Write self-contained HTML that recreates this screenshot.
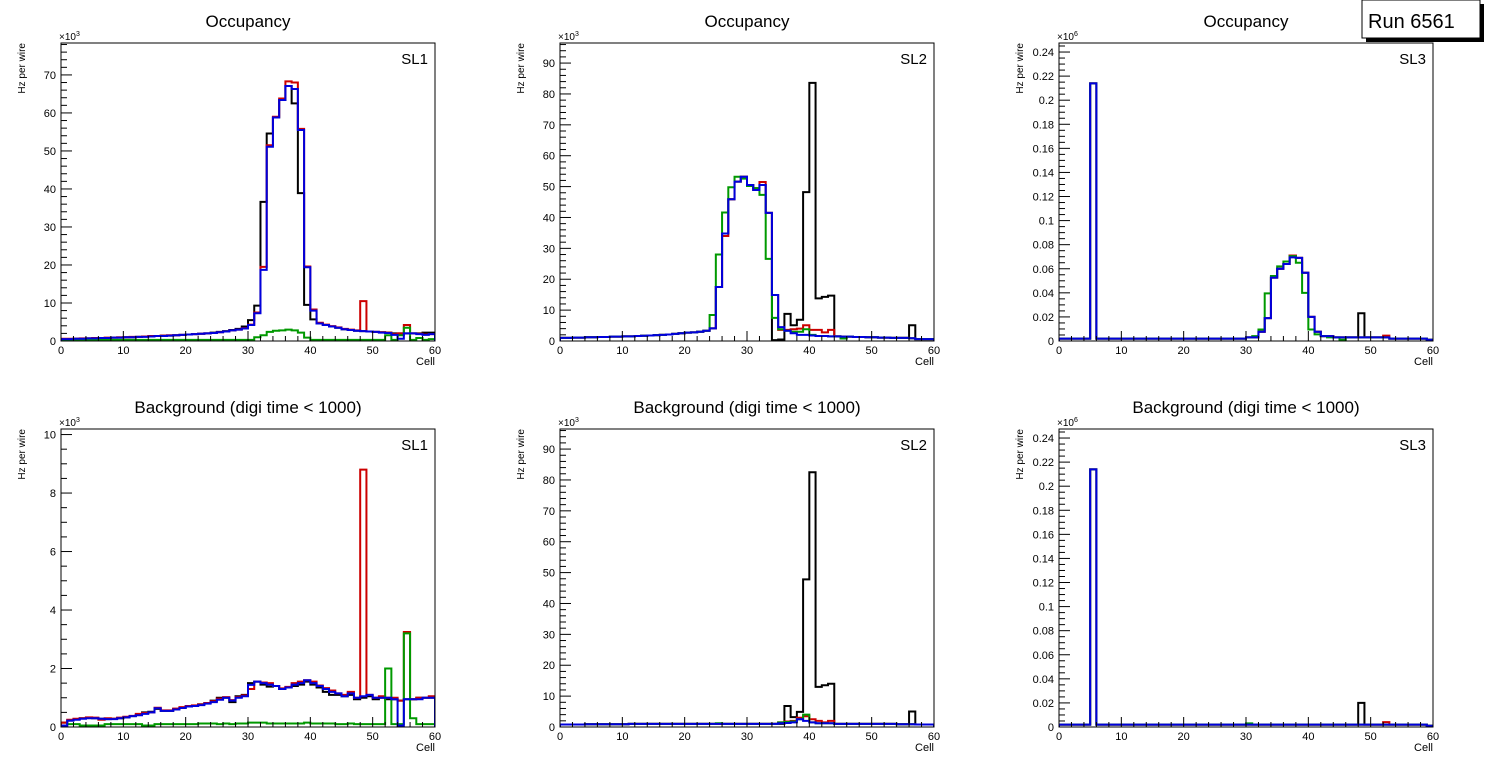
<!DOCTYPE html>
<html><head><meta charset="utf-8"><style>
html,body{margin:0;padding:0;background:#fff;}
svg{display:block;font-family:"Liberation Sans",Arial,sans-serif;}
</style></head>
<body>
<svg id="chart" width="1496" height="772" viewBox="0 0 1496 772" xmlns="http://www.w3.org/2000/svg">
<g>
<rect x="1366" y="4" width="118" height="38" fill="#000"/>
<rect x="1362" y="0" width="118" height="38" fill="#fff" stroke="#000" stroke-width="1"/>
<text x="1368" y="28" font-size="20">Run 6561</text>
</g>
</svg>
<script>
// ---- data (bins 0..59, cells) ----
const cells = Array.from({length:60},(_,i)=>i);
// Panel 1: SL1 occupancy (x10^3)
const p1Black=[0.5,0.5,0.6,0.6,0.7,0.7,0.8,0.8,0.9,0.9,1.0,1.0,1.1,1.2,1.2,1.3,1.4,1.4,1.5,1.6,1.7,1.8,1.9,2.0,2.2,2.4,2.6,2.9,3.2,3.8,5.5,9.3,36.6,54.6,58.8,63.4,67.1,62.5,38.9,9.5,5.7,4.6,4.2,3.8,3.5,3.1,2.9,2.7,2.6,2.5,2.4,2.3,2.2,2.0,2.0,2.0,2.0,2.0,2.2,2.2];
const p1Red=[0.6,0.6,0.6,0.7,0.7,0.8,0.8,0.9,0.9,1.0,1.0,1.1,1.1,1.2,1.3,1.3,1.4,1.5,1.5,1.6,1.7,1.8,1.9,2.0,2.1,2.3,2.5,2.8,3.0,3.4,4.3,7.5,19.5,51.5,59.0,63.8,68.3,68.0,55.8,19.6,8.3,4.8,4.3,3.9,3.6,3.2,3.0,2.8,10.5,2.5,2.4,2.3,2.2,1.8,2.0,4.2,2.0,1.9,1.7,1.8];
const p1Green=[0.3,0.3,0.3,0.3,0.3,0.3,0.3,0.3,0.3,0.3,0.3,0.3,0.3,0.3,0.3,0.3,0.3,0.3,0.3,0.3,0.3,0.3,0.3,0.3,0.3,0.3,0.3,0.3,0.3,0.3,0.3,1.0,1.5,2.4,2.7,2.8,3.0,2.8,2.2,0.9,0.3,0.3,0.3,0.3,0.3,0.3,0.3,0.3,0.3,0.3,0.3,0.3,1.5,0.3,1.5,3.5,0.3,0.8,0.3,0.5];
const p1Blue=[0.5,0.5,0.6,0.6,0.7,0.7,0.8,0.8,0.9,0.9,1.0,1.0,1.1,1.1,1.2,1.3,1.3,1.4,1.5,1.6,1.7,1.8,1.9,2.0,2.1,2.3,2.5,2.8,3.0,3.3,4.2,7.3,18.7,51.1,58.8,63.4,67.1,66.3,55.5,19.4,8.0,4.6,4.2,3.8,3.5,3.1,2.9,2.7,2.6,2.5,2.4,2.2,2.1,1.6,0.6,2.0,2.0,1.8,1.6,1.8];
// Panel 2: SL2 occupancy (x10^3)
const p2Black=[1.0,1.0,1.1,1.1,1.2,1.2,1.3,1.3,1.4,1.4,1.5,1.5,1.6,1.7,1.8,1.9,2.0,2.1,2.3,2.5,2.7,2.8,3.0,3.3,4.1,17.5,34.8,45.9,51.6,53.2,50.5,48.9,50.5,41.5,0.3,0.5,8.8,5.1,6.9,48.2,83.6,13.8,14.3,14.7,1.5,1.4,1.4,1.3,1.3,1.2,1.2,1.1,1.1,1.0,1.0,1.0,5.1,0.6,0.6,0.6];
const p2Red=[1.0,1.0,1.1,1.1,1.2,1.2,1.3,1.3,1.4,1.4,1.5,1.5,1.6,1.7,1.8,1.9,2.0,2.1,2.3,2.5,2.7,2.8,3.0,3.3,4.1,17.5,34.0,45.9,51.6,53.2,50.5,49.5,51.5,41.5,14.9,3.6,3.6,3.8,4.0,5.1,3.6,3.6,2.8,3.6,1.5,1.4,1.4,1.3,1.3,1.2,1.2,1.1,1.1,1.0,1.0,1.0,0.9,0.6,0.6,0.6];
const p2Green=[1.0,1.0,1.1,1.1,1.2,1.2,1.3,1.3,1.4,1.4,1.5,1.5,1.6,1.7,1.8,1.9,2.0,2.1,2.3,2.5,2.7,2.8,3.0,3.3,8.4,28.0,41.6,49.8,53.2,52.6,50.2,49.5,47.3,26.6,7.5,3.8,3.3,3.0,3.0,3.8,2.0,1.6,1.6,1.5,1.5,0.8,1.4,1.3,1.3,1.2,1.2,1.1,1.1,1.0,1.0,1.0,0.9,0.6,0.6,0.6];
const p2Blue=[1.0,1.0,1.1,1.1,1.2,1.2,1.3,1.3,1.4,1.4,1.5,1.5,1.6,1.7,1.8,1.9,2.0,2.1,2.3,2.5,2.7,2.8,3.0,3.3,4.1,17.5,34.8,45.9,51.6,53.2,50.5,48.9,50.5,41.5,14.9,4.5,3.3,2.5,2.0,2.0,1.8,1.6,1.6,1.5,1.5,1.4,1.4,1.3,1.3,1.2,1.2,1.1,1.1,1.0,1.0,1.0,0.9,0.6,0.6,0.6];
// Panel 3: SL3 occupancy (x10^6)
const p3Black=[0.002,0.002,0.002,0.002,0.002,0.214,0.002,0.002,0.002,0.002,0.002,0.002,0.002,0.002,0.002,0.002,0.002,0.002,0.002,0.002,0.002,0.002,0.002,0.002,0.002,0.002,0.002,0.002,0.002,0.002,0.003,0.003,0.0077,0.019,0.0526,0.060,0.064,0.071,0.069,0.0567,0.020,0.0077,0.004,0.004,0.003,0.003,0.003,0.003,0.023,0.003,0.003,0.003,0.003,0.002,0.002,0.002,0.002,0.002,0.002,0.001];
const p3Red=[0.002,0.002,0.002,0.002,0.002,0.214,0.002,0.002,0.002,0.002,0.002,0.002,0.002,0.002,0.002,0.002,0.002,0.002,0.002,0.002,0.002,0.002,0.002,0.002,0.002,0.002,0.002,0.002,0.002,0.002,0.003,0.003,0.0077,0.019,0.0526,0.060,0.064,0.071,0.069,0.0567,0.020,0.0077,0.004,0.004,0.003,0.003,0.003,0.003,0.003,0.003,0.003,0.003,0.0045,0.002,0.002,0.002,0.002,0.002,0.002,0.001];
const p3Green=[0.002,0.002,0.002,0.002,0.002,0.214,0.002,0.002,0.002,0.002,0.002,0.002,0.002,0.002,0.002,0.002,0.002,0.002,0.002,0.002,0.002,0.002,0.002,0.002,0.002,0.002,0.002,0.002,0.002,0.002,0.003,0.004,0.0095,0.0396,0.054,0.062,0.066,0.0705,0.065,0.040,0.0095,0.0055,0.004,0.003,0.003,0.001,0.003,0.003,0.003,0.003,0.003,0.003,0.003,0.002,0.002,0.002,0.002,0.002,0.002,0.001];
const p3Blue=[0.002,0.002,0.002,0.002,0.002,0.214,0.002,0.002,0.002,0.002,0.002,0.002,0.002,0.002,0.002,0.002,0.002,0.002,0.002,0.002,0.002,0.002,0.002,0.002,0.002,0.002,0.002,0.002,0.002,0.002,0.003,0.003,0.0077,0.019,0.0526,0.060,0.064,0.0695,0.069,0.0567,0.020,0.0077,0.004,0.004,0.003,0.003,0.003,0.003,0.003,0.003,0.003,0.003,0.003,0.002,0.002,0.002,0.002,0.002,0.002,0.001];
// Panel 4: SL1 background (x10^3)
const p4Black=[0.15,0.22,0.27,0.3,0.32,0.3,0.28,0.27,0.28,0.3,0.33,0.37,0.42,0.5,0.52,0.62,0.55,0.55,0.62,0.65,0.7,0.72,0.78,0.82,0.9,1.0,1.0,0.85,1.05,1.1,1.5,1.55,1.45,1.38,1.4,1.3,1.35,1.4,1.45,1.55,1.45,1.35,1.2,1.1,1.1,1.05,1.1,0.95,1.0,1.05,0.95,1.0,0.95,0.95,0.9,0.95,0.95,1.0,1.0,1.0];
const p4Red=[0.15,0.25,0.28,0.3,0.33,0.32,0.25,0.3,0.28,0.32,0.35,0.38,0.45,0.48,0.5,0.66,0.57,0.57,0.63,0.68,0.72,0.74,0.77,0.82,0.88,0.97,1.02,0.92,1.02,1.08,1.3,1.55,1.52,1.5,1.4,1.32,1.37,1.5,1.55,1.6,1.55,1.42,1.33,1.25,1.15,1.1,1.2,1.0,8.8,1.1,1.0,1.05,1.0,1.0,0.9,3.25,0.95,1.0,1.0,1.05];
const p4Green=[0.05,0.1,0.1,0.05,0.05,0.05,0.05,0.1,0.1,0.1,0.1,0.1,0.1,0.05,0.05,0.1,0.1,0.1,0.1,0.1,0.1,0.1,0.12,0.12,0.12,0.1,0.12,0.1,0.12,0.12,0.15,0.15,0.15,0.12,0.12,0.12,0.12,0.12,0.12,0.15,0.12,0.12,0.12,0.12,0.1,0.1,0.12,0.1,0.1,0.1,0.1,0.1,2.0,0.1,0.1,3.2,0.3,0.1,0.1,0.1];
const p4Blue=[0.05,0.22,0.25,0.28,0.3,0.3,0.28,0.27,0.27,0.3,0.33,0.37,0.4,0.45,0.5,0.64,0.55,0.55,0.6,0.65,0.7,0.72,0.75,0.8,0.85,0.93,1.0,0.9,1.0,1.05,1.44,1.55,1.5,1.45,1.4,1.3,1.35,1.45,1.5,1.6,1.5,1.4,1.3,1.2,1.15,1.05,1.15,1.0,1.05,1.1,1.0,1.0,1.0,0.95,0.05,0.95,0.95,0.95,1.0,1.0];
// Panel 5: SL2 background (x10^3)
const p5Black=[0.8,0.8,0.8,0.8,0.9,0.9,0.9,0.9,0.9,0.9,0.9,1.0,1.0,1.0,1.0,1.0,1.0,1.0,1.0,1.0,1.0,1.0,1.0,1.0,1.0,1.0,1.0,1.0,1.0,1.0,1.0,1.0,1.0,1.0,1.0,1.0,6.8,3.2,4.9,47.8,82.5,13.0,13.5,14.0,1.0,1.0,1.0,1.0,1.0,1.0,1.0,1.0,1.0,1.0,0.9,0.9,5.0,0.8,0.8,0.8];
const p5Red=[0.8,0.8,0.8,0.8,0.9,0.9,0.9,0.9,0.9,0.9,0.9,1.0,1.0,1.0,1.0,1.0,1.0,1.0,1.0,1.0,1.0,1.0,1.0,1.0,1.0,1.0,1.0,1.0,1.0,1.0,1.0,1.0,1.0,1.0,1.0,1.5,1.8,2.0,3.0,3.5,2.5,2.0,1.5,2.0,1.0,1.0,1.0,1.0,1.0,1.0,1.0,1.0,1.0,1.0,0.9,0.9,0.9,0.8,0.8,0.8];
const p5Green=[0.8,0.8,0.8,0.8,0.9,0.9,0.9,0.9,0.9,0.9,0.9,1.0,1.0,1.0,1.0,1.0,1.0,1.0,1.0,1.0,1.0,1.0,1.0,1.0,1.0,1.2,1.0,1.0,1.0,1.0,1.0,1.0,1.0,1.0,1.0,1.5,1.6,1.8,2.5,4.0,1.5,1.2,1.2,1.2,1.0,1.0,1.0,1.0,1.0,1.0,1.0,1.0,1.0,1.0,0.9,0.9,0.9,0.8,0.8,0.8];
const p5Blue=[0.8,0.8,0.8,0.8,0.9,0.9,0.9,0.9,0.9,0.9,0.9,1.0,1.0,1.0,1.0,1.0,1.0,1.0,1.0,1.0,1.0,1.0,1.0,1.0,1.0,1.0,1.0,1.0,1.0,1.0,1.0,1.0,1.0,1.0,1.0,1.2,1.3,1.5,2.5,2.0,1.5,1.2,1.2,1.2,1.0,1.0,1.0,1.0,1.0,1.0,1.0,1.0,1.0,1.0,0.9,0.9,0.9,0.8,0.8,0.8];
// Panel 6: SL3 background (x10^6)
const p6Black=[0.002,0.002,0.002,0.002,0.002,0.214,0.002,0.002,0.002,0.002,0.002,0.002,0.002,0.002,0.002,0.002,0.002,0.002,0.002,0.002,0.002,0.002,0.002,0.002,0.002,0.002,0.002,0.002,0.002,0.002,0.002,0.002,0.002,0.002,0.002,0.002,0.002,0.002,0.002,0.002,0.002,0.002,0.002,0.002,0.002,0.002,0.002,0.002,0.020,0.002,0.002,0.002,0.002,0.002,0.002,0.002,0.002,0.002,0.002,0.001];
const p6Red=[0.002,0.002,0.002,0.002,0.002,0.214,0.002,0.002,0.002,0.002,0.002,0.002,0.002,0.002,0.002,0.002,0.002,0.002,0.002,0.002,0.002,0.002,0.002,0.002,0.002,0.002,0.002,0.002,0.002,0.002,0.002,0.002,0.002,0.002,0.002,0.002,0.002,0.002,0.002,0.002,0.002,0.002,0.002,0.002,0.002,0.002,0.002,0.002,0.002,0.002,0.002,0.002,0.004,0.002,0.002,0.002,0.002,0.002,0.002,0.001];
const p6Green=[0.002,0.002,0.002,0.002,0.002,0.214,0.002,0.002,0.002,0.002,0.002,0.002,0.002,0.002,0.002,0.002,0.002,0.002,0.002,0.002,0.002,0.002,0.002,0.002,0.002,0.002,0.002,0.002,0.002,0.002,0.003,0.002,0.002,0.002,0.002,0.002,0.002,0.002,0.002,0.002,0.002,0.002,0.002,0.002,0.002,0.002,0.002,0.002,0.002,0.002,0.002,0.002,0.002,0.002,0.002,0.002,0.002,0.002,0.002,0.001];
const p6Blue=[0.002,0.002,0.002,0.002,0.002,0.214,0.002,0.002,0.002,0.002,0.002,0.002,0.002,0.002,0.002,0.002,0.002,0.002,0.002,0.002,0.002,0.002,0.002,0.002,0.002,0.002,0.002,0.002,0.002,0.002,0.002,0.002,0.002,0.002,0.002,0.002,0.002,0.002,0.002,0.002,0.002,0.002,0.002,0.002,0.002,0.002,0.002,0.002,0.002,0.002,0.002,0.002,0.002,0.002,0.002,0.002,0.002,0.002,0.002,0.001];
const xTicks=[0,10,20,30,40,50,60];
const yTicksP1=[0,10,20,30,40,50,60,70];
const yTicksP2=[0,10,20,30,40,50,60,70,80,90];
const yTicksP3=[0,0.02,0.04,0.06,0.08,0.1,0.12,0.14,0.16,0.18,0.2,0.22,0.24];
const yTicksP4=[0,2,4,6,8,10];
const titles=["Occupancy","Occupancy","Occupancy","Background (digi time < 1000)","Background (digi time < 1000)","Background (digi time < 1000)"];
const slLabels=["SL1","SL2","SL3","SL1","SL2","SL3"];

const NS="http://www.w3.org/2000/svg";
const svg=document.getElementById('chart');
function mk(tag,attrs,parent){const e=document.createElementNS(NS,tag);for(const k in attrs)e.setAttribute(k,attrs[k]);(parent||svg).appendChild(e);return e;}

const panels=[
 {x0:61,y0:43,ymax:78.4,ticks:yTicksP1,minor:2,exp:"3",series:[p1Black,p1Red,p1Green,p1Blue]},
 {x0:560,y0:43,ymax:96.5,ticks:yTicksP2,minor:2,exp:"3",series:[p2Black,p2Red,p2Green,p2Blue]},
 {x0:1059,y0:43,ymax:0.2475,ticks:yTicksP3,minor:0.005,exp:"6",series:[p3Black,p3Red,p3Green,p3Blue]},
 {x0:61,y0:429,ymax:10.19,ticks:yTicksP4,minor:0.5,exp:"3",series:[p4Black,p4Red,p4Green,p4Blue]},
 {x0:560,y0:429,ymax:96.5,ticks:yTicksP2,minor:2,exp:"3",series:[p5Black,p5Red,p5Green,p5Blue]},
 {x0:1059,y0:429,ymax:0.2475,ticks:yTicksP3,minor:0.005,exp:"6",series:[p6Black,p6Red,p6Green,p6Blue]},
];
const colors=["#000000","#cc0000","#009900","#0000dd"];
const sNames=["black","red","green","blue"];
const W=374,H=298;

panels.forEach((p,pi)=>{
  const g=mk('g',{});
  
  
  const xs=v=>p.x0+v/60*W;
  const ys=v=>p.y0+H-Math.min(v,p.ymax*1.02)/p.ymax*H;
  const cx=p.x0+W/2;
  const t=mk('text',{x:cx,y:p.y0-16,'font-size':17,'text-anchor':'middle'},g);t.textContent=titles[pi];
  
  
  const cp=mk('clipPath',{id:'clip'+pi},g);mk('rect',{x:p.x0,y:p.y0,width:W,height:H},cp);
  const sg=mk('g',{'clip-path':'url(#clip'+pi+')'},g);
  p.series.forEach((arr,si)=>{
    let d='M'+xs(0)+' '+ys(0);
    cells.forEach(i=>{d+=' L'+xs(i)+' '+ys(arr[i])+' L'+xs(i+1)+' '+ys(arr[i]);});
    d+=' L'+xs(60)+' '+ys(0);
    const path=mk('path',{d:d,fill:'none',stroke:colors[si],'stroke-width':2},sg);
    
    
  });
  const fr=mk('rect',{x:p.x0,y:p.y0,width:W,height:H,fill:'none',stroke:'#000','stroke-width':1},g);
  
  
  for(let v=0;v<=60;v+=2){const maj=v%10===0;mk('line',{x1:xs(v),x2:xs(v),y1:p.y0+H,y2:p.y0+H-(maj?10:5),stroke:'#000','stroke-width':1},g);}
  xTicks.forEach(v=>{const tl=mk('text',{x:xs(v),y:p.y0+H+13,'font-size':11,'text-anchor':'middle'},g);tl.textContent=v;
    
    });
  const xt=mk('text',{x:p.x0+W,y:p.y0+H+24,'font-size':11,'text-anchor':'end'},g);xt.textContent='Cell';
  
  
  const nMinor=Math.floor(p.ymax/p.minor+1e-6);
  for(let k=0;k<=nMinor;k++){const v=k*p.minor;const maj=p.ticks.some(tv=>Math.abs(tv-v)<1e-9);
    mk('line',{x1:p.x0,x2:p.x0+(maj?11:6),y1:ys(v),y2:ys(v),stroke:'#000','stroke-width':1},g);}
  p.ticks.forEach(v=>{const tl=mk('text',{x:p.x0-5,y:ys(v)+4,'font-size':11,'text-anchor':'end'},g);tl.textContent=parseFloat(v.toFixed(3));
    
    });
  const ex=mk('text',{x:p.x0-2,y:p.y0-3,'font-size':10},g);ex.innerHTML='×10<tspan dy="-4" font-size="7">'+p.exp+'</tspan>';
  
  
  const yt=mk('text',{x:0,y:0,'font-size':10,'text-anchor':'end',transform:'translate('+(p.x0-36)+','+(p.y0)+') rotate(-90)'},g);yt.textContent='Hz per wire';
  
  
  const sl=mk('text',{x:p.x0+W-7,y:p.y0+21,'font-size':15,'text-anchor':'end'},g);sl.textContent=slLabels[pi];
  
  
});
</script>
</body></html>
